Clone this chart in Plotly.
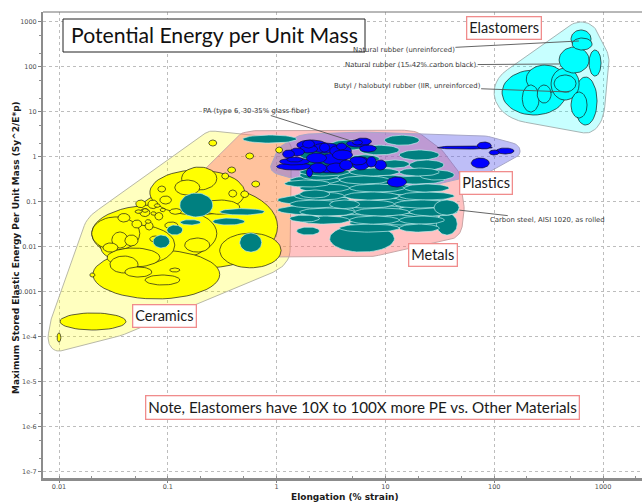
import numpy as np
import plotly.graph_objects as go

# ---------------------------------------------------------------------------
# Material property ranges: elongation (% strain) and maximum stored elastic
# energy per unit mass (Sy^2 / E*rho). One bubble per material grade.
# ---------------------------------------------------------------------------
ceramic_elong_lo = [0.0096, 0.0102, 0.0205, 0.0200, 0.0448, 0.0200, 0.134, 0.0684, 0.0238, 0.0306,
                    0.0403, 0.104, 0.0192, 0.238, 0.52, 0.355, 0.313, 0.59, 0.363, 0.468,
                    0.98, 0.0553, 0.0656, 0.076, 0.0468, 0.0845, 0.0619, 0.0938, 0.0403, 0.0508,
                    0.104, 0.0348, 0.0684, 0.116, 0.143, 0.197, 0.081, 0.0254, 0.0294, 0.0619,
                    0.058, 0.07, 0.062, 0.085, 0.05, 0.075, 0.0277, 0.30]
ceramic_elong_hi = [0.0104, 0.0412, 0.30, 0.282, 1.02, 0.0553, 0.282, 0.508, 0.116, 0.043,
                    0.0713, 0.129, 0.0214, 0.282, 0.615, 0.42, 0.363, 0.70, 0.43, 0.553,
                    1.135, 0.0684, 0.081, 0.09, 0.0577, 0.108, 0.0733, 0.124, 0.0532, 0.0627,
                    0.134, 0.0448, 0.0845, 0.197, 0.243, 0.458, 0.0955, 0.0348, 0.0532, 0.129,
                    0.066, 0.078, 0.07, 0.095, 0.058, 0.085, 0.0845, 1.10]
ceramic_energy_lo = [7.6e-5, 1.41e-4, 6.9e-4, 0.00457, 0.00336, 0.00845, 0.182, 0.0506, 0.00392, 0.00936,
                     0.00212, 0.00274, 0.00212, 1.73, 0.889, 0.434, 0.319, 0.212, 0.127, 0.124,
                     1.21, 0.0467, 0.0703, 0.0392, 0.026, 0.0889, 0.0235, 0.025, 0.0104, 0.0738,
                     0.0526, 0.0354, 0.0127, 0.141, 0.0076, 0.0526, 0.164, 0.0076, 0.00261, 0.00141,
                     0.058, 0.05, 0.033, 0.06, 0.055, 0.075, 0.00354, 0.0034]
ceramic_energy_hi = [1.21e-4, 3.37e-4, 0.00845, 0.0845, 0.235, 0.0459, 0.59, 0.506, 0.0303, 0.0212,
                     0.00354, 0.00336, 0.00261, 2.35, 1.21, 0.59, 0.434, 0.288, 0.182, 0.174,
                     1.64, 0.0703, 0.109, 0.0575, 0.0392, 0.134, 0.0354, 0.0354, 0.0182, 0.109,
                     0.0703, 0.0547, 0.0173, 0.303, 0.0156, 0.109, 0.223, 0.0121, 0.0062, 0.00235,
                     0.07, 0.06, 0.04, 0.072, 0.066, 0.09, 0.00936, 0.020]

metal_elong_lo = [0.129, 0.0733, 0.098, 0.259, 0.458, 0.30, 0.488, 1.02, 1.02, 3.07,
                  1.53, 29.4, 2.01, 2.09, 2.48, 3.79, 4.68, 7.14, 1.63, 1.8,
                  3.07, 5.78, 8.8, 12.1, 13.4, 1.63, 3.07, 5.78, 9.8, 13.4,
                  16.6, 20.5, 1.63, 1.18, 4.68, 3.07, 28.0, 8.8, 1.32, 0.13,
                  1.32, 3.07, 8.8, 1.63, 4.68, 13.4, 1.32, 3.79, 10.9, 1.63,
                  4.68, 14.9, 1.46, 4.2, 13.4, 1.32, 3.79, 12.1, 1.63, 5.2,
                  16.6, 1.63, 4.68, 13.4, 3.79, 13.4]
metal_elong_hi = [0.259, 0.104, 0.137, 0.508, 0.73, 0.776, 1.53, 4.68, 5.2, 12.1,
                  2.48, 45.8, 13.4, 12.1, 16.6, 31.2, 43.0, 43.0, 3.79, 4.2,
                  8.8, 20.5, 25.3, 38.5, 47.6, 3.07, 7.14, 13.4, 20.5, 31.2,
                  34.5, 43.0, 3.07, 3.07, 8.8, 5.78, 47.6, 20.5, 2.48, 0.2,
                  3.07, 8.8, 16.6, 4.68, 13.4, 31.2, 3.79, 10.9, 34.8, 4.68,
                  14.9, 38.5, 4.2, 13.4, 43.0, 3.79, 12.1, 38.5, 5.2, 16.6,
                  45.8, 4.68, 13.4, 34.8, 13.4, 31.2]
metal_energy_lo = [0.0457, 0.00936, 0.0182, 0.0303, 0.0076, 0.0506, 2.01, 0.0845, 0.0506, 0.0076,
                   0.0182, 0.0182, 0.182, 0.121, 0.0506, 0.0354, 0.026, 0.0703, 0.303, 0.506,
                   0.303, 0.235, 0.141, 0.1, 0.0561, 0.845, 1.41, 1.1, 1.8, 0.845,
                   0.506, 0.303, 0.121, 0.212, 0.73, 0.0703, 0.0506, 0.0303, 0.0354, 0.0303,
                   0.56, 0.56, 0.56, 0.373, 0.373, 0.373, 0.247, 0.247, 0.247, 0.164,
                   0.164, 0.164, 0.109, 0.109, 0.109, 0.0723, 0.0723, 0.0723, 0.048, 0.048,
                   0.048, 0.0318, 0.0318, 0.0318, 0.0211, 0.0211]
metal_energy_hi = [0.156, 0.0182, 0.0303, 0.0434, 0.0201, 0.0703, 3.03, 0.141, 0.0845, 0.0303,
                   0.0274, 0.0561, 0.303, 0.201, 0.0845, 0.0575, 0.0434, 0.121, 0.506, 0.845,
                   0.46, 0.39, 0.235, 0.165, 0.0845, 1.41, 2.35, 1.8, 3.0, 1.41,
                   0.845, 0.506, 0.182, 0.303, 1.1, 0.109, 0.109, 0.0506, 0.0506, 0.04,
                   0.845, 0.845, 0.845, 0.56, 0.56, 0.56, 0.373, 0.373, 0.373, 0.247,
                   0.247, 0.247, 0.164, 0.164, 0.164, 0.109, 0.109, 0.109, 0.0723, 0.0723,
                   0.0723, 0.048, 0.048, 0.048, 0.0318, 0.0318]

plastic_elong_lo = [1.53, 1.63, 2.14, 3.07, 4.39, 4.98, 5.78, 1.065, 1.0, 1.24,
                    1.88, 2.59, 3.26, 4.68, 6.7, 2.01, 1.88, 2.38, 2.88, 3.79,
                    4.98, 1.73, 2.48, 3.55, 10.4, 30.0, 69.8, 104.0, 90.0, 61.5,
                    7.93, 5.2, 1.135, 1.32]
plastic_elong_hi = [2.88, 2.38, 3.79, 4.87, 7.14, 6.15, 8.25, 2.01, 2.14, 1.73,
                    2.88, 4.39, 4.98, 6.7, 8.25, 2.88, 2.14, 4.03, 4.39, 4.98,
                    7.14, 2.23, 3.07, 4.39, 15.6, 96.0, 93.8, 152.0, 111.0, 90.0,
                    10.2, 7.44, 1.46, 1.8]
plastic_energy_lo = [1.41, 1.21, 1.21, 1.0, 1.64, 1.82, 1.27, 0.655, 0.506, 0.762,
                     0.725, 0.655, 0.845, 0.655, 0.59, 0.434, 0.354, 0.434, 0.434, 0.506,
                     0.506, 1.56, 1.27, 1.41, 0.212, 1.48, 1.48, 1.15, 1.09, 0.56,
                     0.506, 1.82, 0.935, 1.04]
plastic_energy_hi = [2.35, 1.82, 2.01, 1.82, 2.35, 2.35, 1.82, 0.935, 0.725, 0.985,
                     1.21, 1.21, 1.41, 1.0, 1.0, 0.725, 0.56, 0.655, 0.725, 0.845,
                     1.0, 2.35, 2.01, 2.01, 0.354, 1.73, 2.12, 1.56, 1.41, 0.935,
                     0.845, 2.6, 1.41, 1.56]

elastomer_elong_lo = [508, 520, 395, 744, 197, 118, 181, 248, 333, 355, 542, 508]
elastomer_elong_hi = [776, 793, 744, 959, 439, 458, 259, 333, 603, 565, 881, 713]
elastomer_energy_lo = [261, 235, 72.4, 62, 26, 8.45, 9.85, 15.6, 18.2, 27.4, 5.06, 7.25]
elastomer_energy_hi = [655, 434, 274, 235, 109, 84.5, 39.2, 39.2, 93.5, 65.5, 59, 27.4]

# Individually labelled grades (elongation %, energy)
callout_names = ["Natural rubber (unreinforced)",
                 "Natural rubber (15-42% carbon black)",
                 "Butyl / halobutyl rubber (IIR, unreinforced)",
                 "PA (type 6, 30-35% glass fiber)",
                 "Carbon steel, AISI 1020, as rolled"]
callout_elong = [600, 395, 488, 5.2, 47.8]
callout_energy = [373, 115, 27.4, 2.12, 0.065]

x_tick_vals = [0.01, 0.1, 1, 10, 100, 1000]
x_tick_text = ["0.01", "0.1", "1", "10", "100", "1000"]
y_tick_vals = [1000, 100, 10, 1, 0.1, 0.01, 0.001, 1e-4, 1e-5, 1e-6, 1e-7]
y_tick_text = ["1000", "100", "10", "1", "0.1", "0.01", "0.001", "1e-4", "1e-5", "1e-6", "1e-7"]

# ---------------------------------------------------------------------------
# Geometry helpers
# ---------------------------------------------------------------------------
W, H = 642, 504
M_L, M_R, M_T, M_B = 43, 0, 12, 26
X_RANGE = (-2.147, 3.358)
Y_RANGE = (-7.14, 3.216)
PX_X = (W - M_L - M_R) / (X_RANGE[1] - X_RANGE[0])   # pixels per decade
PX_Y = (H - M_T - M_B) / (Y_RANGE[1] - Y_RANGE[0])


def ellipse_outline(xlo, xhi, ylo, yhi, n=48):
    """Bubble spanning the property ranges, elliptical in log-log space."""
    lx0, lx1, ly0, ly1 = np.log10([xlo, xhi, ylo, yhi])
    cx, rx = (lx0 + lx1) / 2, (lx1 - lx0) / 2
    cy, ry = (ly0 + ly1) / 2, (ly1 - ly0) / 2
    t = np.linspace(0, 2 * np.pi, n)
    return 10 ** (cx + rx * np.cos(t)), 10 ** (cy + ry * np.sin(t))


def bubbles_largest_first(lo_x, hi_x, lo_y, hi_y):
    size = [np.log10(hi_x[i] / lo_x[i]) * np.log10(hi_y[i] / lo_y[i]) for i in range(len(lo_x))]
    for i in sorted(range(len(lo_x)), key=lambda k: -size[k]):
        yield ellipse_outline(lo_x[i], hi_x[i], lo_y[i], hi_y[i])


def convex_hull(points):
    pts = sorted(set(points))

    def cross(o, a, b):
        return (a[0] - o[0]) * (b[1] - o[1]) - (a[1] - o[1]) * (b[0] - o[0])

    lower, upper = [], []
    for p in pts:
        while len(lower) >= 2 and cross(lower[-2], lower[-1], p) <= 0:
            lower.pop()
        lower.append(p)
    for p in reversed(pts):
        while len(upper) >= 2 and cross(upper[-2], upper[-1], p) <= 0:
            upper.pop()
        upper.append(p)
    return lower[:-1] + upper[:-1]


def family_envelope(lo_x, hi_x, lo_y, hi_y, pad):
    """Rounded convex hull around all bubbles of a family (pad in screen pixels)."""
    pts = []
    for i in range(len(lo_x)):
        ex, ey = ellipse_outline(lo_x[i], hi_x[i], lo_y[i], hi_y[i], n=36)
        pts += [(round(u, 4), round(v, 4)) for u, v in
                zip(np.log10(ex) * PX_X, np.log10(ey) * PX_Y)]
    core = convex_hull(pts)
    ring = np.linspace(0, 2 * np.pi, 32, endpoint=False)
    grown = [(round(u + pad * np.cos(a), 4), round(v + pad * np.sin(a), 4))
             for (u, v) in core for a in ring]
    outer = convex_hull(grown)
    outer.append(outer[0])
    u = np.array([p[0] for p in outer])
    v = np.array([p[1] for p in outer])
    return 10 ** (u / PX_X), 10 ** (v / PX_Y)


families = [
    # name, data, envelope fill, envelope line, pad, bubble fill, bubble line
    ("Ceramics", (ceramic_elong_lo, ceramic_elong_hi, ceramic_energy_lo, ceramic_energy_hi),
     "rgba(255,255,0,0.25)", "#B9B9A6", 9, "#FFFF00", "#1A1A1A"),
    ("Metals", (metal_elong_lo, metal_elong_hi, metal_energy_lo, metal_energy_hi),
     "rgba(255,110,110,0.42)", "#C9A5A5", 5, "#008080", "#BFEDED"),
    ("Plastics", (plastic_elong_lo, plastic_elong_hi, plastic_energy_lo, plastic_energy_hi),
     "rgba(100,100,235,0.42)", "#A7A7C8", 6, "#0000FF", "#10102A"),
    ("Elastomers", (elastomer_elong_lo, elastomer_elong_hi, elastomer_energy_lo, elastomer_energy_hi),
     "rgba(0,255,255,0.22)", "#A5B5B5", 8, "#00FFFF", "#1A1A1A"),
]

fig = go.Figure()

for name, data, env_fill, env_line, pad, _, _ in families:
    ex, ey = family_envelope(*data, pad)
    fig.add_trace(go.Scatter(x=ex, y=ey, mode="lines", fill="toself", fillcolor=env_fill,
                             line=dict(color=env_line, width=1), hoverinfo="skip",
                             name=name + " envelope"))

for name, data, _, _, _, bub_fill, bub_line in families:
    for bx, by in bubbles_largest_first(*data):
        fig.add_trace(go.Scatter(x=bx, y=by, mode="lines", fill="toself", fillcolor=bub_fill,
                                 line=dict(color=bub_line, width=0.7), hoverinfo="skip",
                                 name=name))


def px_to_paper_x(px):
    return (px - M_L) / (W - M_L - M_R)


def px_to_paper_y(py):
    return (H - M_B - py) / (H - M_T - M_B)


annotations = []

# leader-line call-outs for individual grades
callout_offsets = [(-175, 9), (-148, 1), (-162, -6), (-98, -31), (88, 10)]
for name, ex, ey, (ax, ay) in zip(callout_names, callout_elong, callout_energy, callout_offsets):
    annotations.append(dict(
        x=np.log10(ex), y=np.log10(ey), xref="x", yref="y", text=name,
        showarrow=True, arrowhead=0, arrowwidth=0.9, arrowcolor="#555555",
        ax=ax, ay=ay, font=dict(family="DejaVu Sans", size=6.9, color="#3A3A3A"),
        borderpad=0))

# family labels
label_font = dict(family="Lato", size=14.5, color="#1A1A1A")
family_labels = [("Elastomers", 504, 28), ("Plastics", 486, 183),
                 ("Metals", 433, 254.5), ("Ceramics", 164, 316)]
for text, px, py in family_labels:
    annotations.append(dict(
        x=px_to_paper_x(px), y=px_to_paper_y(py), xref="paper", yref="paper",
        text=text, showarrow=False, font=label_font, bgcolor="white",
        bordercolor="#F08C8C", borderwidth=1.3, borderpad=2,
        xanchor="center", yanchor="middle"))

annotations.append(dict(
    x=px_to_paper_x(362), y=px_to_paper_y(407.5), xref="paper", yref="paper",
    text="Note, Elastomers have 10X to 100X more PE vs. Other Materials",
    showarrow=False, font=dict(family="Lato", size=15.2, color="#1A1A1A"), bgcolor="white",
    bordercolor="#F08C8C", borderwidth=1.3, borderpad=2, xanchor="center", yanchor="middle"))

annotations.append(dict(
    x=px_to_paper_x(69), y=px_to_paper_y(35.5), xref="paper", yref="paper",
    text="Potential Energy per Unit Mass", showarrow=False,
    font=dict(family="Lato", size=21.2, color="#111111"), xanchor="left", yanchor="middle"))

axis_title_font = dict(family="DejaVu Sans", size=9, color="#1A1A1A")
annotations.append(dict(
    x=px_to_paper_x(16), y=px_to_paper_y(248), xref="paper", yref="paper",
    text="<b>Maximum Stored Elastic Energy Per Unit Mass (Sy^2/E*p)</b>",
    textangle=-90, showarrow=False, font=axis_title_font,
    xanchor="center", yanchor="middle"))
annotations.append(dict(
    x=px_to_paper_x(345), y=px_to_paper_y(497.5), xref="paper", yref="paper",
    text="<b>Elongation (% strain)</b>", showarrow=False, font=axis_title_font,
    xanchor="center", yanchor="middle"))

shapes = [
    # title frame
    dict(type="rect", xref="paper", yref="paper",
         x0=px_to_paper_x(63), x1=px_to_paper_x(365), y0=px_to_paper_y(52), y1=px_to_paper_y(19),
         line=dict(color="#222222", width=1), fillcolor="white", layer="above"),
    # top frame line of the plot area
    dict(type="line", xref="paper", yref="paper", x0=0, x1=1, y0=1, y1=1,
         line=dict(color="#707070", width=1)),
]

tick_font = dict(family="DejaVu Sans", size=6.5, color="#505050")

fig.update_layout(
    width=W, height=H, autosize=False,
    margin=dict(l=M_L, r=M_R, t=M_T, b=M_B, pad=0),
    paper_bgcolor="white", plot_bgcolor="white",
    showlegend=False, hovermode=False,
    annotations=annotations, shapes=shapes,
    xaxis=dict(type="log", range=list(X_RANGE), tickvals=x_tick_vals, ticktext=x_tick_text,
               tickfont=tick_font, ticks="outside", ticklen=2, tickcolor="#808080",
               ticklabelstandoff=-2,
               showgrid=True, gridcolor="#BDBDBD", griddash="dot", gridwidth=1,
               showline=True, linecolor="#8C8C8C", linewidth=2.5, zeroline=False,
               minor=dict(ticks="inside", ticklen=2, tickcolor="#909090", showgrid=False)),
    yaxis=dict(type="log", range=list(Y_RANGE), tickvals=y_tick_vals, ticktext=y_tick_text,
               tickfont=tick_font, ticks="outside", ticklen=3, tickcolor="#808080",
               showgrid=True, gridcolor="#BDBDBD", griddash="dot", gridwidth=1,
               showline=True, linecolor="#8C8C8C", linewidth=2, zeroline=False,
               minor=dict(ticks="outside", ticklen=2, tickcolor="#909090", showgrid=False)),
)

fig.write_html("out.html")
